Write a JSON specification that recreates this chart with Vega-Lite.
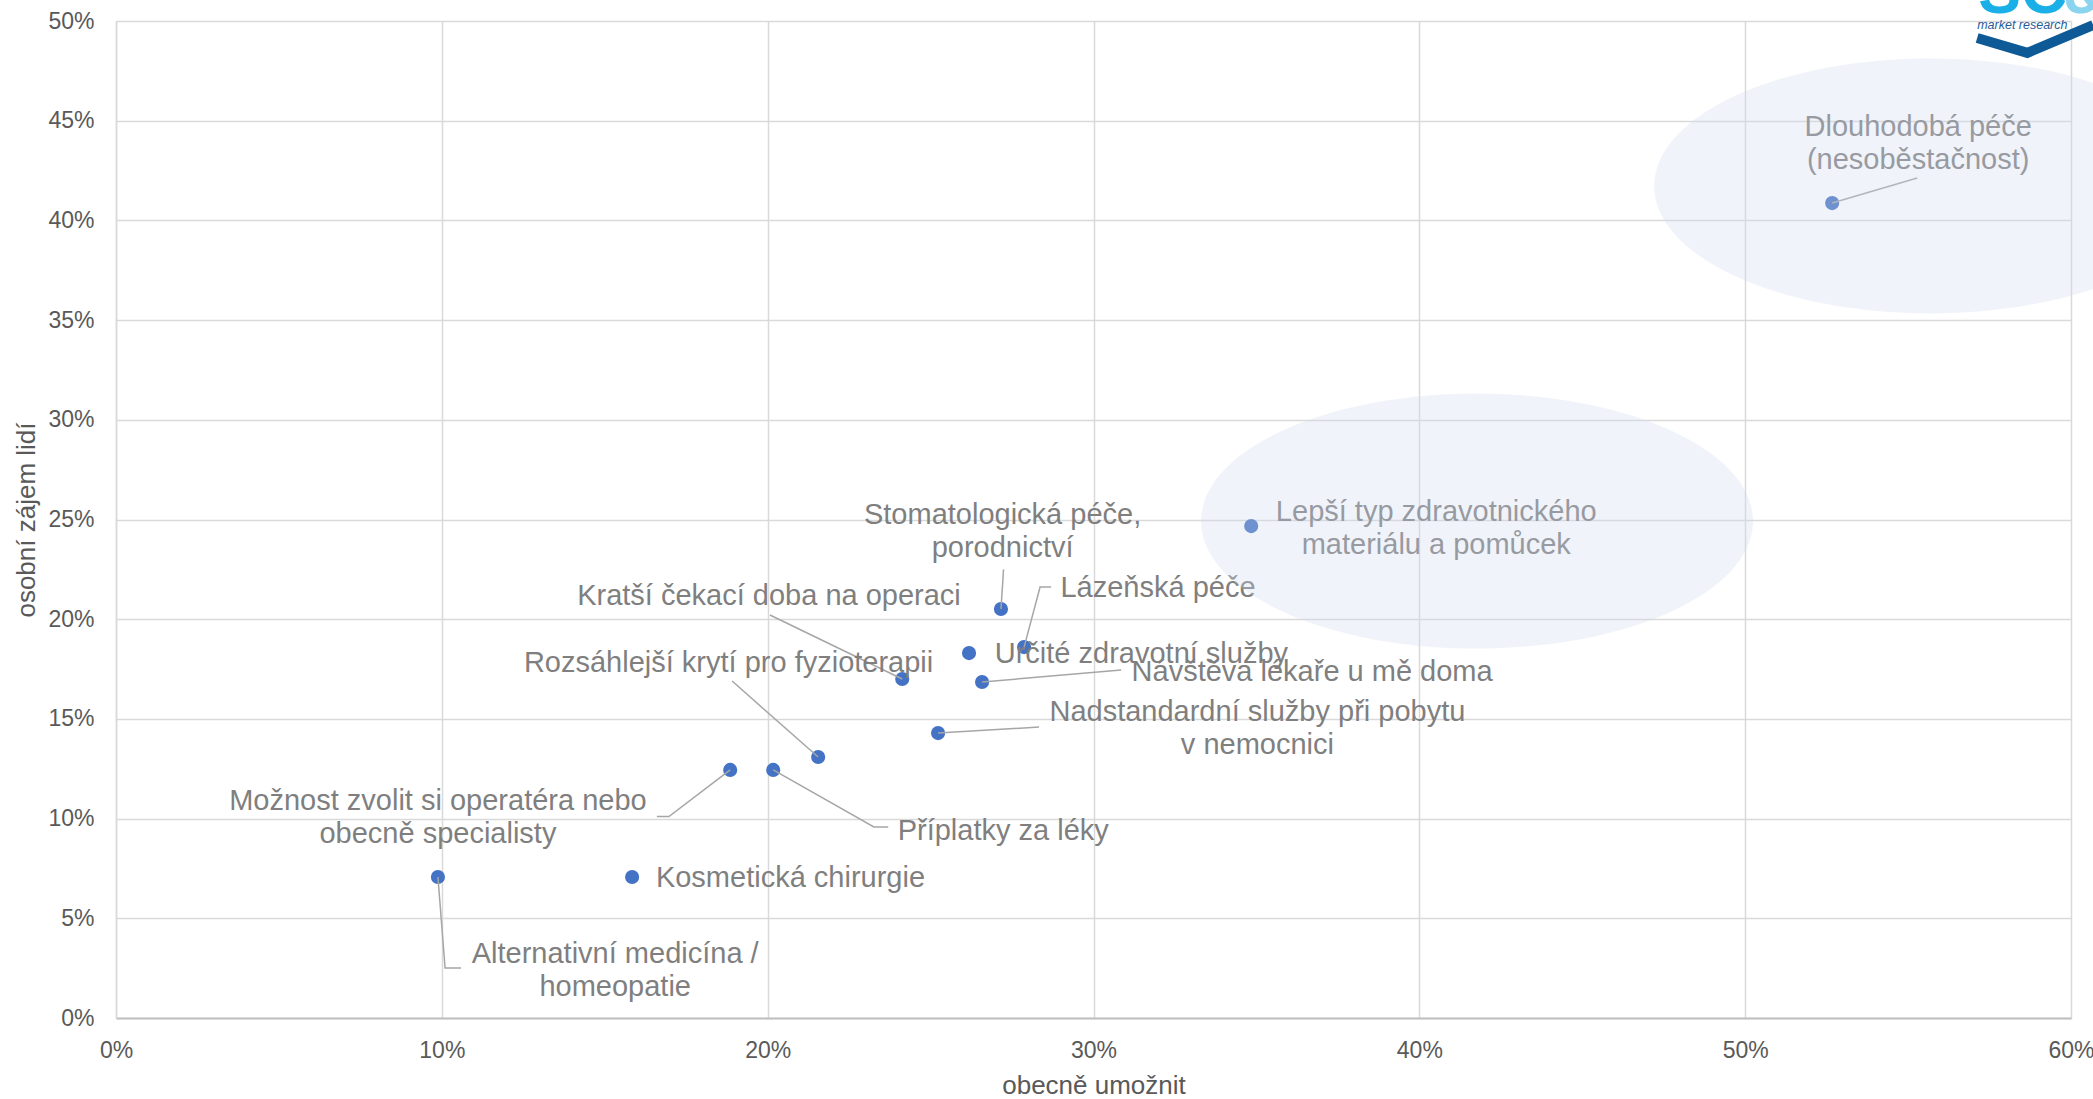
{
  "$schema": "https://vega.github.io/schema/vega-lite/v6.json",
  "width": 1955,
  "height": 997,
  "autosize": {"type": "none"},
  "padding": {"left": 116, "top": 21, "right": 22, "bottom": 81},
  "background": "white",
  "config": {"view": {"stroke": null}, "font": "Liberation Sans"},
  "datasets": {
    "points": [
      {"name": "Dlouhodobá péče\n(nesoběstačnost)", "x": 52.67, "y": 40.87, "lx": 55.31, "ly": 44.21},
      {"name": "Lepší typ zdravotnického\nmateriálu a pomůcek", "x": 34.84, "y": 24.67, "lx": 40.52, "ly": 24.92},
      {"name": "Stomatologická péče,\nporodnictví", "x": 27.16, "y": 20.51, "lx": 27.21, "ly": 24.77},
      {"name": "Lázeňská péče", "x": 27.87, "y": 18.6, "lx": 31.98, "ly": 21.11},
      {"name": "Určité zdravotní služby", "x": 26.18, "y": 18.3, "lx": 31.47, "ly": 17.8},
      {"name": "Návštěva lékaře u mě doma", "x": 26.58, "y": 16.85, "lx": 36.71, "ly": 16.88},
      {"name": "Kratší čekací doba na operaci", "x": 24.13, "y": 17.0, "lx": 20.04, "ly": 20.71},
      {"name": "Nadstandardní služby při pobytu\nv nemocnici", "x": 25.23, "y": 14.29, "lx": 35.03, "ly": 14.89},
      {"name": "Rozsáhlejší krytí pro fyzioterapii", "x": 21.55, "y": 13.09, "lx": 18.8, "ly": 17.35},
      {"name": "Možnost zvolit si operatéra nebo\nobecně specialisty", "x": 18.85, "y": 12.44, "lx": 9.88, "ly": 10.43},
      {"name": "Příplatky za léky", "x": 20.17, "y": 12.44, "lx": 27.23, "ly": 8.93},
      {"name": "Kosmetická chirurgie", "x": 15.84, "y": 7.07, "lx": 20.7, "ly": 6.57},
      {"name": "Alternativní medicína /\nhomeopatie", "x": 9.88, "y": 7.07, "lx": 15.32, "ly": 2.76}
    ],
    "leaders": [
      {"id": 1, "o": 0, "x": 52.67, "y": 40.87}, {"id": 1, "o": 1, "x": 55.28, "y": 42.13},
      {"id": 3, "o": 0, "x": 27.16, "y": 20.51}, {"id": 3, "o": 1, "x": 27.24, "y": 22.5},
      {"id": 4, "o": 0, "x": 27.87, "y": 18.6}, {"id": 4, "o": 1, "x": 28.36, "y": 21.61}, {"id": 4, "o": 2, "x": 28.7, "y": 21.61},
      {"id": 6, "o": 0, "x": 26.58, "y": 16.85}, {"id": 6, "o": 1, "x": 30.85, "y": 17.45},
      {"id": 7, "o": 0, "x": 24.13, "y": 17.0}, {"id": 7, "o": 1, "x": 20.07, "y": 20.21},
      {"id": 8, "o": 0, "x": 25.23, "y": 14.29}, {"id": 8, "o": 1, "x": 28.33, "y": 14.59},
      {"id": 9, "o": 0, "x": 21.55, "y": 13.09}, {"id": 9, "o": 1, "x": 18.91, "y": 16.9},
      {"id": 10, "o": 0, "x": 18.85, "y": 12.44}, {"id": 10, "o": 1, "x": 16.97, "y": 10.1}, {"id": 10, "o": 2, "x": 16.6, "y": 10.1},
      {"id": 11, "o": 0, "x": 20.17, "y": 12.44}, {"id": 11, "o": 1, "x": 23.26, "y": 9.58}, {"id": 11, "o": 2, "x": 23.7, "y": 9.58},
      {"id": 13, "o": 0, "x": 9.88, "y": 7.07}, {"id": 13, "o": 1, "x": 10.1, "y": 2.51}, {"id": 13, "o": 2, "x": 10.59, "y": 2.51}
    ],
    "zones": [
      {"x": 55.68, "y": 41.73},
      {"x": 41.77, "y": 24.92}
    ],
    "logo": [
      {"x": 57.15, "y": 50.4, "ax": 59.76, "mx": 57.12, "my": 49.6}
    ],
    "chevron": [
      {"o": 0, "x": 57.12, "y": 49.15},
      {"o": 1, "x": 58.66, "y": 48.4},
      {"o": 2, "x": 60.68, "y": 49.8}
    ]
  },
  "layer": [
    {
      "data": {"name": "points"},
      "mark": {"type": "circle", "size": 200, "color": "#4472C4", "opacity": 1},
      "encoding": {
        "x": {
          "field": "x", "type": "quantitative",
          "scale": {"domain": [0, 60], "nice": false, "zero": true},
          "axis": {
            "values": [0, 10, 20, 30, 40, 50, 60],
            "labelExpr": "datum.value + '%'",
            "labelFlush": false,
            "title": "obecně umožnit",
            "grid": true, "gridColor": "#D9D9D9", "gridWidth": 1.5,
            "domainColor": "#BFBFBF", "domainWidth": 2,
            "ticks": false, "labelPadding": 21,
            "labelFontSize": 23, "labelColor": "#595959", "labelFont": "Liberation Sans",
            "titleFontSize": 26, "titleFontWeight": "normal", "titleColor": "#595959", "titleFont": "Liberation Sans",
            "titleX": 977.5, "titleY": 75, "titleBaseline": "alphabetic", "titleAlign": "center"
          }
        },
        "y": {
          "field": "y", "type": "quantitative",
          "scale": {"domain": [0, 50], "nice": false, "zero": true},
          "axis": {
            "values": [0, 5, 10, 15, 20, 25, 30, 35, 40, 45, 50],
            "labelExpr": "datum.value + '%'",
            "labelFlush": false,
            "title": "osobní zájem lidí",
            "grid": true, "gridColor": "#D9D9D9", "gridWidth": 1.5,
            "domainColor": "#D9D9D9", "domainWidth": 1.5,
            "ticks": false, "labelPadding": 22,
            "labelFontSize": 23, "labelColor": "#595959", "labelFont": "Liberation Sans",
            "titleFontSize": 26, "titleFontWeight": "normal", "titleColor": "#595959", "titleFont": "Liberation Sans",
            "titleX": -82, "titleY": 498.5, "titleAngle": 270, "titleBaseline": "alphabetic", "titleAlign": "center"
          }
        }
      }
    },
    {
      "data": {"name": "leaders"},
      "mark": {"type": "line", "color": "#A6A6A6", "strokeWidth": 1.5},
      "encoding": {
        "x": {"field": "x", "type": "quantitative"},
        "y": {"field": "y", "type": "quantitative"},
        "detail": {"field": "id", "type": "nominal"},
        "order": {"field": "o", "type": "quantitative"}
      }
    },
    {
      "data": {"name": "points"},
      "mark": {"type": "text", "align": "center", "baseline": "alphabetic", "lineBreak": "\n", "lineHeight": 33, "fontSize": 29, "color": "#7F7F7F", "font": "Liberation Sans"},
      "encoding": {
        "x": {"field": "lx", "type": "quantitative"},
        "y": {"field": "ly", "type": "quantitative"},
        "text": {"field": "name", "type": "nominal"}
      }
    },
    {
      "data": {"name": "zones"},
      "mark": {
        "type": "point", "filled": true, "size": 304704, "color": "#CED8EB", "opacity": 0.31, "strokeWidth": 0,
        "shape": "M -1 0 C -1 -0.2552 -0.5523 -0.462 0 -0.462 C 0.5523 -0.462 1 -0.2552 1 0 C 1 0.2552 0.5523 0.462 0 0.462 C -0.5523 0.462 -1 0.2552 -1 0 Z"
      },
      "encoding": {
        "x": {"field": "x", "type": "quantitative"},
        "y": {"field": "y", "type": "quantitative"}
      }
    },
    {
      "data": {"name": "logo"},
      "mark": {"type": "text", "text": "SC", "align": "left", "baseline": "alphabetic", "fontSize": 64, "fontWeight": "bold", "color": "#1AAFE6", "font": "Liberation Sans"},
      "encoding": {
        "x": {"field": "x", "type": "quantitative"},
        "y": {"field": "y", "type": "quantitative"}
      }
    },
    {
      "data": {"name": "logo"},
      "mark": {"type": "text", "text": "&", "align": "left", "baseline": "alphabetic", "fontSize": 64, "fontWeight": "bold", "color": "#8AD4F0", "font": "Liberation Sans"},
      "encoding": {
        "x": {"field": "ax", "type": "quantitative"},
        "y": {"field": "y", "type": "quantitative"}
      }
    },
    {
      "data": {"name": "chevron"},
      "mark": {"type": "line", "color": "#0E5A96", "strokeWidth": 10, "strokeCap": "butt", "strokeJoin": "miter"},
      "encoding": {
        "x": {"field": "x", "type": "quantitative"},
        "y": {"field": "y", "type": "quantitative"},
        "order": {"field": "o", "type": "quantitative"}
      }
    },
    {
      "data": {"name": "logo"},
      "mark": {"type": "text", "text": "market research", "align": "left", "baseline": "alphabetic", "fontSize": 12.5, "fontStyle": "italic", "color": "#1F5C99", "font": "Liberation Sans"},
      "encoding": {
        "x": {"field": "mx", "type": "quantitative"},
        "y": {"field": "my", "type": "quantitative"}
      }
    }
  ]
}
